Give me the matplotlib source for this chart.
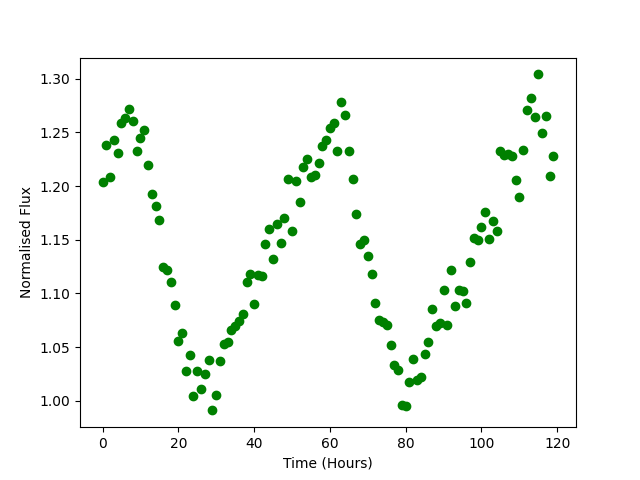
import matplotlib
matplotlib.use("Agg")
import matplotlib.pyplot as plt
import numpy as np

time_hours = list(range(120))
flux = [1.204, 1.238, 1.208, 1.243, 1.231, 1.259, 1.263, 1.272, 1.261, 1.233,
        1.245, 1.252, 1.220, 1.193, 1.181, 1.168, 1.125, 1.122, 1.111, 1.089,
        1.056, 1.063, 1.028, 1.043, 1.004, 1.028, 1.011, 1.025, 1.038, 0.991,
        1.005, 1.037, 1.053, 1.055, 1.066, 1.070, 1.074, 1.081, 1.111, 1.118,
        1.090, 1.117, 1.116, 1.146, 1.160, 1.132, 1.165, 1.147, 1.170, 1.207,
        1.158, 1.205, 1.185, 1.218, 1.225, 1.208, 1.210, 1.221, 1.237, 1.243,
        1.254, 1.259, 1.233, 1.278, 1.266, 1.233, 1.207, 1.174, 1.146, 1.150,
        1.135, 1.118, 1.091, 1.075, 1.073, 1.071, 1.052, 1.033, 1.029, 0.996,
        0.995, 1.017, 1.039, 1.019, 1.022, 1.044, 1.055, 1.085, 1.070, 1.072,
        1.103, 1.071, 1.122, 1.088, 1.103, 1.102, 1.091, 1.129, 1.152, 1.150,
        1.162, 1.176, 1.151, 1.167, 1.158, 1.233, 1.229, 1.230, 1.228, 1.206,
        1.190, 1.234, 1.271, 1.282, 1.264, 1.304, 1.249, 1.265, 1.209, 1.228]

fig, ax = plt.subplots(figsize=(6.4, 4.8), dpi=100)
ax.plot(time_hours, flux, 'o', color='green')
ax.set_xlabel('Time (Hours)')
ax.set_ylabel('Normalised Flux')
fig.savefig('out.png')
